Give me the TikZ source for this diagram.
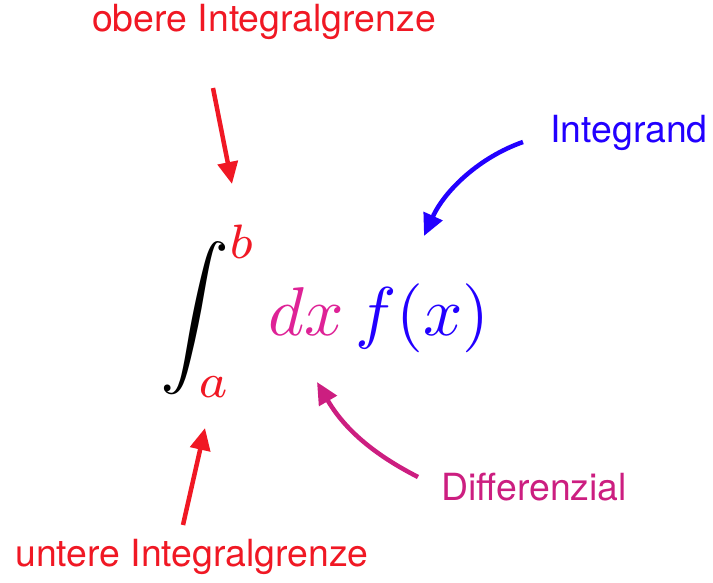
\documentclass[tikz,border=0pt]{standalone}
\usepackage{graphicx}
\usepackage{amsmath}
\usepackage{fontspec}
\setmainfont{TeX Gyre Heros}
\usetikzlibrary{arrows.meta}
\definecolor{cred}{RGB}{240,24,36}
\definecolor{cblue}{RGB}{34,0,255}
\definecolor{cmag}{RGB}{204,30,128}
\definecolor{cpink}{RGB}{222,34,150}
\tikzset{
  lbl/.style={inner sep=0pt, font=\fontsize{37.4}{42}\selectfont},
  arr/.style={line width=4.5pt, -{Triangle[length=22pt,width=20pt]}},
}
\begin{document}
\begin{tikzpicture}[x=1pt,y=-1pt]
\useasboundingbox (0,0) rectangle (713,582);
\node[lbl, text=cred] (top) at (264,22) {obere Integralgrenze};
\node[lbl, text=cblue] (ig) at (629,133) {Integrand};
\node[lbl, text=cmag] (dif) at (534,487) {Differenzial};
\node[lbl, text=cred] (bot) at (192,557) {untere Integralgrenze};
\node[inner sep=0pt, anchor=base west] (math) at (160,335)
  {\scalebox{6.9}{$\displaystyle \int_{\textcolor{cred}{a}}^{\textcolor{cred}{b}} \textcolor{cpink}{dx}\, \textcolor{cblue}{f(x)}$}};
\coordinate (t1) at (213,88);
\coordinate (t2) at (232,184);
\coordinate (b1) at (183,525);
\coordinate (b2) at (205,428);
\coordinate (i1) at (523,142);
\coordinate (i2) at (424,236);
\coordinate (d1) at (418,477);
\coordinate (d2) at (317,382);
\draw[arr, cred] (t1) -- (t2);
\draw[arr, cred] (b1) -- (b2);
\draw[arr, cblue] (i1) .. controls (480,157) and (445,190) .. (i2);
\draw[arr, cmag] (d1) .. controls (375,455) and (345,430) .. (d2);
\end{tikzpicture}
\end{document}
